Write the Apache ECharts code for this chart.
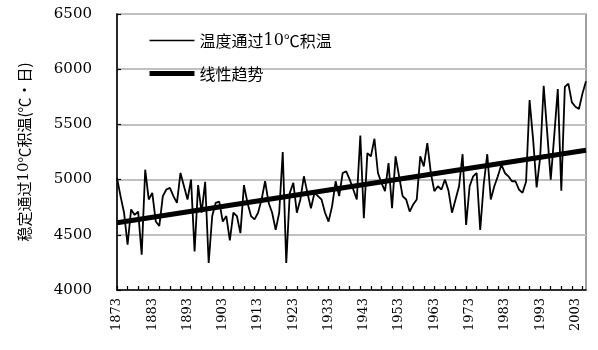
<!DOCTYPE html>
<html>
<head>
<meta charset="utf-8">
<script src="https://cdn.jsdelivr.net/npm/echarts@6/dist/echarts.min.js"></script>
<style>
  html, body { margin: 0; padding: 0; background: #fff; }
  #chart { width: 598px; height: 350px; }
</style>
</head>
<body>
<div id="chart"></div>
<script>
// Years on the category axis
const firstYear = 1873;
const lastYear = 2006;
const years = [];
for (let y = firstYear; y <= lastYear; y++) years.push(String(y));

// Accumulated temperature above 10 ℃ (℃·d), one value per year
const accumTemp = [
  5015, 4850, 4700, 4410, 4730, 4680, 4710, 4320, 5090, 4820,
  4880, 4620, 4580, 4850, 4910, 4925, 4850, 4790, 5060, 4940,
  4820, 5000, 4350, 4950, 4700, 4980, 4245, 4670, 4790, 4800,
  4620, 4670, 4450, 4700, 4670, 4515, 4950, 4790, 4670, 4640,
  4700, 4820, 4985, 4790, 4700, 4545, 4700, 5250, 4245, 4880,
  4970, 4700, 4820, 5030, 4880, 4740, 4880, 4850, 4820, 4700,
  4620, 4760, 4985, 4850, 5060, 5075, 5000, 4910, 4820, 5400,
  4650, 5240, 5210, 5370, 5060, 4970, 4895, 5150, 4740, 5210,
  5030, 4850, 4820, 4710, 4775, 4820, 5210, 5120, 5330, 5060,
  4895, 4940, 4910, 5000, 4900, 4700, 4820, 4940, 5230, 4590,
  4940, 5030, 5060, 4545, 4960, 5230, 4820, 4940, 5030, 5135,
  5060, 5030, 4985, 4985, 4910, 4880, 4980, 5720, 5365, 4930,
  5200, 5850, 5425, 5000, 5400, 5820, 4900, 5840, 5870, 5700,
  5660, 5640, 5780, 5890
];

// Linear trend: values at the first and last year
const trendEnds = [4610, 5265];

// Value axis ticks
const yTicks = [4000, 4500, 5000, 5500, 6000, 6500];

const seriesNames = ['温度通过10℃积温', '线性趋势'];
const yAxisTitle = '稳定通过10℃积温(℃•日)';

const trendData = years.map((_, i) =>
  i === 0 ? trendEnds[0] : (i === years.length - 1 ? trendEnds[1] : null));

const serif = '"DejaVu Serif", "Liberation Serif", serif';
const cjk = '"Noto Sans CJK SC", "Noto Sans CJK JP", sans-serif';

// Split a label into digit runs (serif) and the rest (CJK font) as rich text
function richDigits(s) {
  return s.replace(/([0-9]+)|([^0-9]+)/g, (m, d, o) => d ? '{d|' + d + '}' : '{c|' + o + '}');
}
function richStyles(size) {
  return {
    d: { fontFamily: serif, fontSize: size, color: '#000' },
    c: { fontFamily: cjk, fontSize: size, color: '#000' }
  };
}

const chart = echarts.init(document.getElementById('chart'), null, { renderer: 'canvas' });
chart.setOption({
  animation: false,
  backgroundColor: '#ffffff',
  grid: {
    left: 117, right: 12, top: 14, bottom: 60,
    show: true, borderColor: '#808080', borderWidth: 1.5,
    containLabel: false
  },
  legend: {
    orient: 'vertical',
    left: 142, top: 27,
    itemWidth: 45, itemHeight: 17, itemGap: 16,
    itemStyle: { opacity: 0 },
    data: [
      { name: seriesNames[0], lineStyle: { width: 1.5, color: '#000' } },
      { name: seriesNames[1], lineStyle: { width: 5, color: '#000' } }
    ],
    formatter: (name) => richDigits(name),
    textStyle: { fontSize: 16, color: '#000', lineHeight: 17, rich: richStyles(16) }
  },
  xAxis: {
    type: 'category',
    data: years,
    boundaryGap: false,
    axisLine: { lineStyle: { color: '#000', width: 1.5 } },
    axisTick: { inside: true, length: 4, interval: 2, lineStyle: { color: '#000', width: 1.2 } },
    axisLabel: {
      interval: 9, rotate: 90, margin: 8,
      fontFamily: serif, fontSize: 13, color: '#000'
    },
    splitLine: { show: false }
  },
  yAxis: {
    type: 'value',
    min: yTicks[0], max: yTicks[yTicks.length - 1], interval: 500,
    name: richDigits(yAxisTitle),
    nameLocation: 'middle', nameGap: 85, nameRotate: 90,
    nameMoveOverlap: false,
    nameTextStyle: { fontSize: 15, color: '#000', rich: richStyles(15) },
    axisLine: { show: true, lineStyle: { color: '#000', width: 1.5 } },
    axisTick: { show: true, inside: true, length: 4, lineStyle: { color: '#000', width: 1.2 } },
    axisLabel: {
      margin: 25, fontFamily: serif, fontSize: 15, color: '#000',
      formatter: (v) => String(v)
    },
    splitLine: { show: true, lineStyle: { color: '#c0c0c0', width: 2 } }
  },
  series: [
    {
      name: seriesNames[0],
      type: 'line',
      data: accumTemp,
      symbol: 'none',
      lineStyle: { color: '#000', width: 1.8 },
      itemStyle: { color: '#000' },
      z: 3
    },
    {
      name: seriesNames[1],
      type: 'line',
      data: trendData,
      connectNulls: true,
      symbol: 'none',
      lineStyle: { color: '#000', width: 5 },
      itemStyle: { color: '#000' },
      z: 4
    }
  ]
});
</script>
</body>
</html>
